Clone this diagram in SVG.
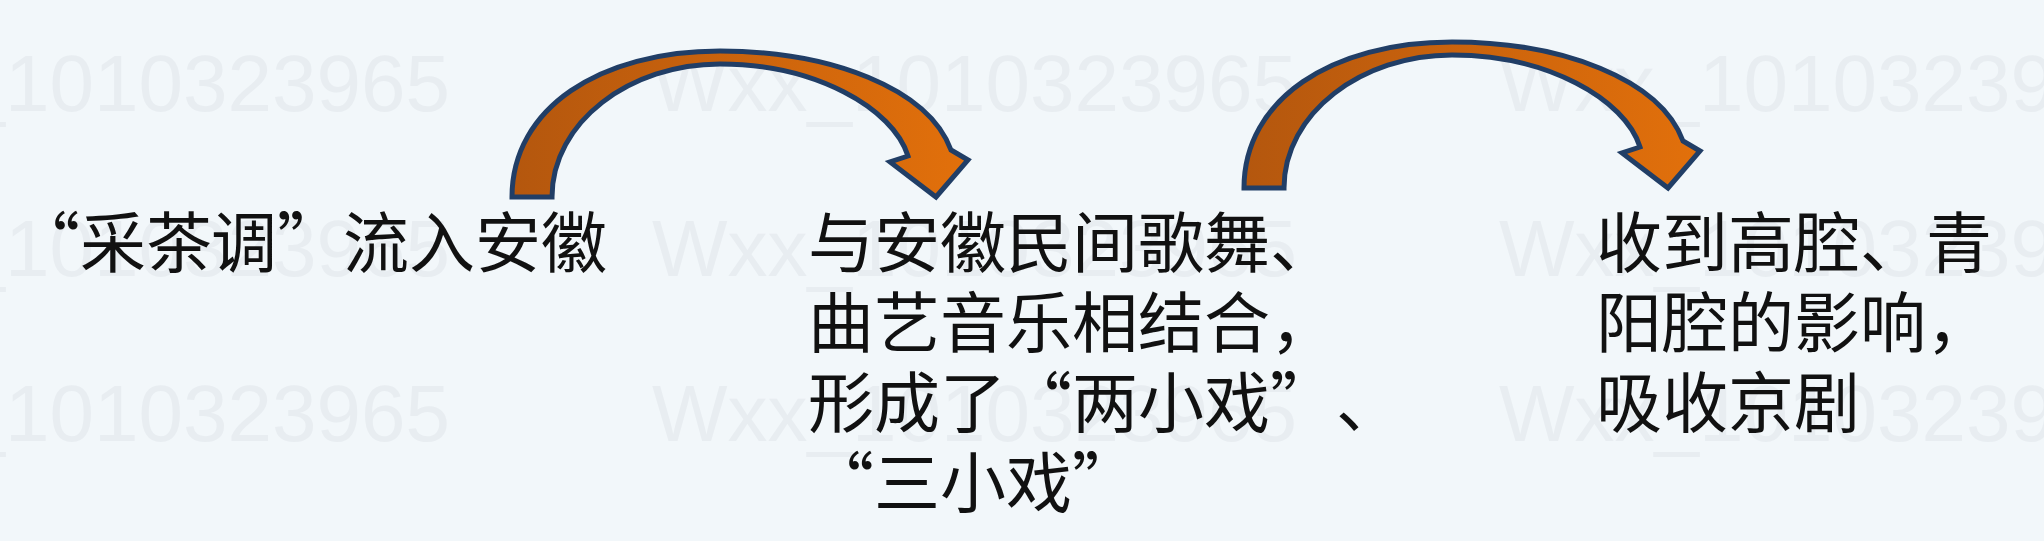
<svg xmlns="http://www.w3.org/2000/svg" width="2044" height="541" viewBox="0 0 2044 541">
<style>
.t{font-family:"Noto Sans CJK SC","Noto Sans CJK JP",sans-serif;font-size:66px;fill:#111;text-spacing-trim:space-all;}
.wm{font-family:"Liberation Sans",Arial,sans-serif;font-size:80px;fill:#e8edf1;}
.arr{fill:url(#og);stroke:#213e66;stroke-width:5;stroke-linejoin:miter;}
</style>
<defs>
<linearGradient id="og" x1="0" y1="0" x2="1" y2="0">
<stop offset="0" stop-color="#b4570e"/>
<stop offset="1" stop-color="#e2700b"/>
</linearGradient>
<path id="carrow" class="arr" d="M512,197 C512,108 600,51 720,51 C830,51 928,88 951,150 L968,160 L936,197 L890,162 L908,156 C893,108 815,64 720,64 C630,64 552,122 552,197 Z"/>
</defs>
<rect x="0" y="0" width="2044" height="541" fill="#f2f7fa"/>
<g id="watermark">
<text class="wm" x="-195" y="111">Wxx_1010323965</text>
<text class="wm" x="652" y="111">Wxx_1010323965</text>
<text class="wm" x="1499" y="111">Wxx_1010323965</text>
<text class="wm" x="-195" y="276">Wxx_1010323965</text>
<text class="wm" x="652" y="276">Wxx_1010323965</text>
<text class="wm" x="1499" y="276">Wxx_1010323965</text>
<text class="wm" x="-195" y="441">Wxx_1010323965</text>
<text class="wm" x="652" y="441">Wxx_1010323965</text>
<text class="wm" x="1499" y="441">Wxx_1010323965</text>
</g>
<g id="connectors">
<use href="#carrow"/>
<use href="#carrow" transform="translate(732,-9)"/>
</g>
<g id="node1">
<text class="t" x="14 80 146 211 277 343 409 475 541" y="267">“采茶调”流入安徽</text>
</g>
<g id="node2">
<text class="t" x="808" y="267">与安徽民间歌舞、</text>
<text class="t" x="808" y="347">曲艺音乐相结合，</text>
<text class="t" x="808 874 940 1006 1072 1138 1204 1270 1336" y="427">形成了“两小戏”、</text>
<text class="t" x="808 874 940 1006 1072" y="507">“三小戏”</text>
</g>
<g id="node3">
<text class="t" x="1596" y="267">收到高腔、青</text>
<text class="t" x="1596" y="347">阳腔的影响，</text>
<text class="t" x="1596" y="427">吸收京剧</text>
</g>
</svg>
